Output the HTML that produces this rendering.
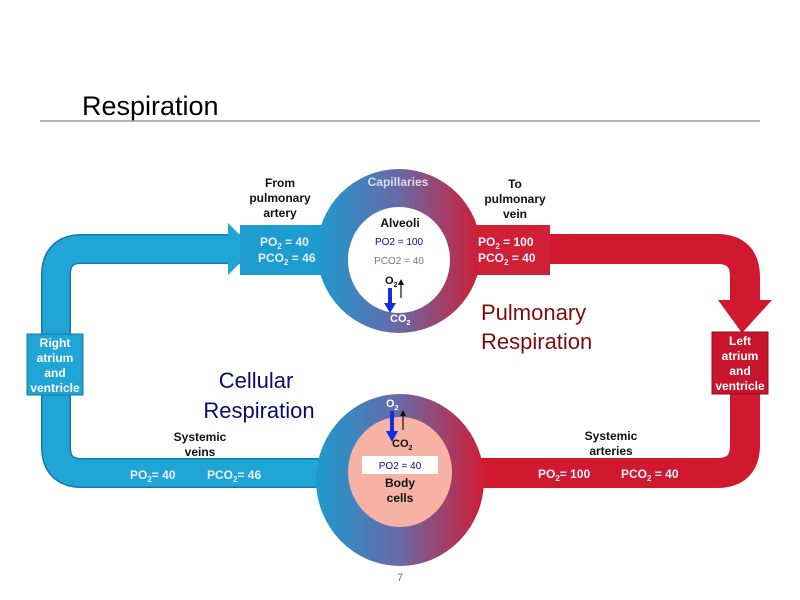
<!DOCTYPE html>
<html><head><meta charset="utf-8"><style>
html,body{margin:0;padding:0;background:#fff;}
svg{display:block;font-family:"Liberation Sans",Arial,sans-serif;}
</style></head><body>
<svg width="800" height="600" viewBox="0 0 800 600" xmlns="http://www.w3.org/2000/svg">
<defs>
<linearGradient id="ring" x1="0" y1="0" x2="1" y2="0">
<stop offset="0" stop-color="#1b9bd0"/><stop offset="0.5" stop-color="#6a68a6"/><stop offset="1" stop-color="#d01d35"/>
</linearGradient>
</defs>
<text x="82" y="115" font-size="27" fill="#000">Respiration</text>
<line x1="40" y1="121" x2="760" y2="121" stroke="#999" stroke-width="1.5"/>

<!-- blue loop -->
<path d="M245 249 H82 Q56 249 56 275 V447 Q56 473 82 473 H340" fill="none" stroke="#137aa3" stroke-width="30"/>
<path d="M245 249 H82 Q56 249 56 275 V447 Q56 473 82 473 H340" fill="none" stroke="#1fa5d6" stroke-width="27"/>
<polygon points="228,223 254,249 228,275" fill="#1fa5d6"/>
<!-- red loop -->
<path d="M460 249 H717 Q745 249 745 277 V300" fill="none" stroke="#d0182f" stroke-width="30"/>
<polygon points="718,300 772,300 742,333" fill="#d0182f"/>
<path d="M745 390 V445 Q745 473 717 473 H460" fill="none" stroke="#d0182f" stroke-width="30"/>
<!-- stubs -->
<rect x="240" y="225" width="90" height="50" fill="#1c9ccf"/>
<rect x="468" y="225" width="82" height="50" fill="#d02035"/>

<!-- top ring -->
<ellipse cx="399" cy="251" rx="82" ry="82" fill="url(#ring)"/>
<ellipse cx="399" cy="260" rx="51" ry="53" fill="#fff"/>
<!-- bottom ring -->
<ellipse cx="400" cy="480" rx="84" ry="86" fill="url(#ring)"/>
<ellipse cx="400" cy="472" rx="52" ry="55" fill="#f7b2a6"/>

<!-- boxes -->
<rect x="27" y="334" width="56" height="61" fill="#1fa5d6" stroke="#137aa3"/>
<text font-size="12" font-weight="bold" fill="#fff" text-anchor="middle"><tspan x="55" y="347">Right</tspan><tspan x="55" y="362">atrium</tspan><tspan x="55" y="377">and</tspan><tspan x="55" y="392">ventricle</tspan></text>
<rect x="712" y="332" width="56" height="62" fill="#c8142c" stroke="#8d0e1e"/>
<text font-size="12" font-weight="bold" fill="#fff" text-anchor="middle"><tspan x="740" y="345">Left</tspan><tspan x="740" y="360">atrium</tspan><tspan x="740" y="375">and</tspan><tspan x="740" y="390">ventricle</tspan></text>

<!-- labels -->
<g font-size="12" font-weight="bold" fill="#111" text-anchor="middle">
<text x="280" y="187">From</text><text x="280" y="202">pulmonary</text><text x="280" y="217">artery</text>
<text x="515" y="188">To</text><text x="515" y="203">pulmonary</text><text x="515" y="218">vein</text>
<text x="200" y="441">Systemic</text><text x="200" y="456">veins</text>
<text x="611" y="440">Systemic</text><text x="611" y="455">arteries</text>
<text x="400" y="227">Alveoli</text>
<text x="400" y="487">Body</text><text x="400" y="502">cells</text>
</g>
<text x="398" y="186" font-size="12" font-weight="bold" fill="#dde" text-anchor="middle">Capillaries</text>
<g font-size="12" font-weight="bold" fill="#e8f0ff">
<text x="260" y="246">PO<tspan font-size="8" dy="3">2</tspan><tspan dy="-3"> = 40</tspan></text>
<text x="258" y="262">PCO<tspan font-size="8" dy="3">2</tspan><tspan dy="-3"> = 46</tspan></text>
<text x="478" y="246">PO<tspan font-size="8" dy="3">2</tspan><tspan dy="-3"> = 100</tspan></text>
<text x="478" y="262">PCO<tspan font-size="8" dy="3">2</tspan><tspan dy="-3"> = 40</tspan></text>
<text x="130" y="479">PO<tspan font-size="8" dy="3">2</tspan><tspan dy="-3">= 40</tspan></text>
<text x="207" y="479">PCO<tspan font-size="8" dy="3">2</tspan><tspan dy="-3">= 46</tspan></text>
<text x="538" y="478">PO<tspan font-size="8" dy="3">2</tspan><tspan dy="-3">= 100</tspan></text>
<text x="621" y="478">PCO<tspan font-size="8" dy="3">2</tspan><tspan dy="-3"> = 40</tspan></text>
</g>
<text x="399" y="245" font-size="10" fill="#0a0a9a" text-anchor="middle">PO2 = 100</text>
<text x="399" y="264" font-size="10" fill="#6a7a99" text-anchor="middle">PCO2 = 40</text>
<text x="385" y="284" font-size="11" font-weight="bold" fill="#111">O<tspan font-size="7" dy="3">2</tspan></text>
<line x1="390" y1="288" x2="390" y2="305" stroke="#1030e0" stroke-width="4"/>
<polygon points="384,303 396,303 390,313" fill="#1030e0"/>
<line x1="401" y1="298" x2="401" y2="282" stroke="#111" stroke-width="1.2"/>
<polygon points="398,285 404,285 401,279" fill="#111"/>
<text x="390" y="322" font-size="11" font-weight="bold" fill="#fff">CO<tspan font-size="7" dy="3">2</tspan></text>

<text x="386" y="407" font-size="11" font-weight="bold" fill="#fff">O<tspan font-size="7" dy="3">2</tspan></text>
<line x1="392" y1="411" x2="392" y2="433" stroke="#1030e0" stroke-width="4"/>
<polygon points="386,431 398,431 392,442" fill="#1030e0"/>
<line x1="403" y1="430" x2="403" y2="413" stroke="#111" stroke-width="1.2"/>
<polygon points="400,416 406,416 403,410" fill="#111"/>
<text x="392" y="447" font-size="11" font-weight="bold" fill="#111">CO<tspan font-size="7" dy="3">2</tspan></text>
<rect x="362" y="456" width="76" height="18" fill="#fff"/>
<text x="400" y="469" font-size="10" fill="#0a0a9a" text-anchor="middle">PO2 = 40</text>

<text font-size="22" fill="#7a0c0c"><tspan x="481" y="320">Pulmonary</tspan><tspan x="481" y="349">Respiration</tspan></text>
<text font-size="22" fill="#0b0b6b" text-anchor="middle"><tspan x="256" y="388">Cellular</tspan><tspan x="259" y="418">Respiration</tspan></text>
<text x="400" y="581" font-size="11" fill="#777" text-anchor="middle">7</text>
</svg>
</body></html>
